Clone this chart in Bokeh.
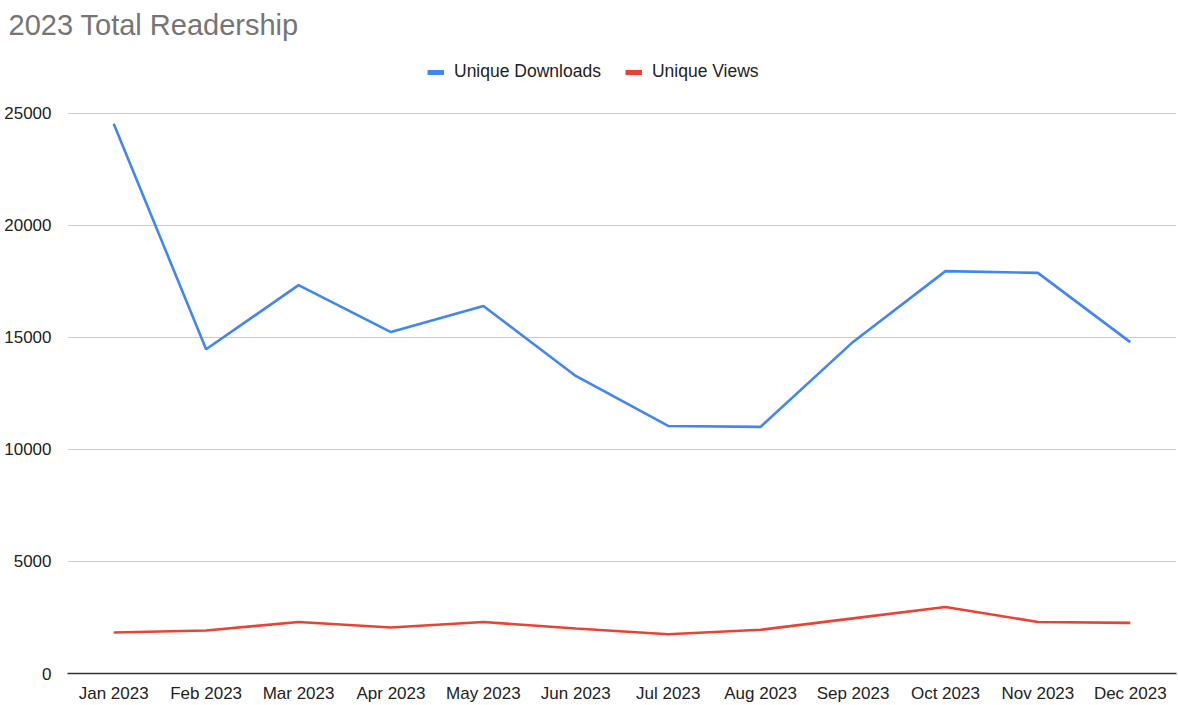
from bokeh.plotting import figure
from bokeh.models import FixedTicker, Range1d, FactorRange, Legend, LegendItem
from bokeh.embed import file_html
from bokeh.resources import INLINE

months = ["Jan 2023", "Feb 2023", "Mar 2023", "Apr 2023", "May 2023", "Jun 2023",
          "Jul 2023", "Aug 2023", "Sep 2023", "Oct 2023", "Nov 2023", "Dec 2023"]
unique_downloads = [24540, 14470, 17335, 15240, 16400, 13280, 11050, 11010, 14800, 17960, 17880, 14790]
unique_views = [1830, 1920, 2300, 2050, 2300, 2010, 1750, 1950, 2460, 2970, 2300, 2260]
y_ticks = [0, 5000, 10000, 15000, 20000, 25000]

FONT = "Liberation Sans"

# frame spans from y=45 to y=674 px; 25000 sits at ~113 px
p = figure(width=1178, height=705, x_range=FactorRange(*months), y_range=Range1d(0, 28030),
           output_backend="svg", toolbar_location=None,
           min_border_left=67, min_border_right=2, min_border_top=45, min_border_bottom=31)

p.title.text = "2023 Total Readership"
p.title.text_font = FONT
p.title.text_font_size = "29px"
p.title.text_font_style = "normal"
p.title.text_color = "#757575"
p.title.offset = -59

p.outline_line_color = None
p.xgrid.grid_line_color = None
p.ygrid.grid_line_color = "#cccccc"
p.ygrid.grid_line_width = 1
p.yaxis.ticker = FixedTicker(ticks=y_ticks)
p.yaxis.axis_line_color = None
p.yaxis.major_tick_line_color = None
p.yaxis.minor_tick_line_color = None
p.yaxis.major_label_standoff = 10
p.xaxis.axis_line_color = "#333333"
p.xaxis.axis_line_width = 1.5
p.xaxis.major_tick_line_color = None
p.xaxis.minor_tick_line_color = None
p.xaxis.major_label_standoff = 4
for ax in (p.xaxis, p.yaxis):
    ax.major_label_text_font = FONT
    ax.major_label_text_font_size = "17px"
    ax.major_label_text_color = "#222222"

p.line(months, unique_downloads, line_color="#4285F4", line_width=2.6)
p.line(months, unique_views, line_color="#EA4335", line_width=2.6)

nan = float("nan")
d1 = p.line(x=[months[0]], y=[nan], line_color="#4285F4", line_width=5)
d2 = p.line(x=[months[0]], y=[nan], line_color="#EA4335", line_width=5)

legend = Legend(items=[LegendItem(label="Unique Downloads", renderers=[d1]),
                       LegendItem(label="Unique Views", renderers=[d2])],
                orientation="horizontal", location=(360, 591), margin=0, padding=10,
                label_text_font=FONT, label_text_font_size="17.5px", label_text_color="#222222",
                glyph_width=17, glyph_height=20, spacing=24, label_standoff=10,
                border_line_color=None, background_fill_alpha=0)
p.add_layout(legend, "center")

open("out.html", "w").write(file_html(p, INLINE))
